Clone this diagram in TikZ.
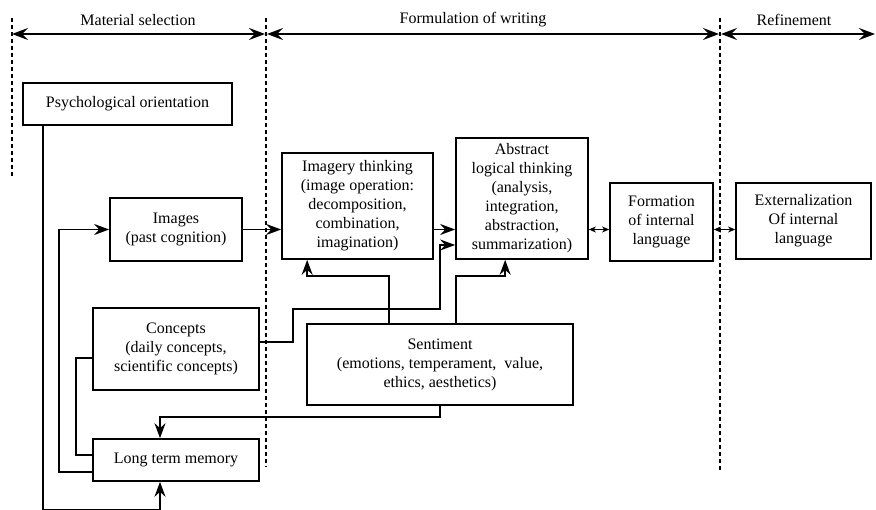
\documentclass[tikz,border=0pt]{standalone}
\usepackage{fontspec}
\setmainfont{Liberation Serif}
\newfontfamily\diagfont{Liberation Serif}
\usetikzlibrary{arrows.meta}

\begin{document}
\begin{tikzpicture}[x=1pt,y=-1pt,
  box/.style={draw, line width=1.7pt, align=center, inner sep=0pt,
              font=\diagfont\fontsize{16}{19}\selectfont},
  lbl/.style={inner sep=0pt, font=\diagfont\fontsize{16}{19}\selectfont},
  conn/.style={line width=1.7pt},
  tip/.style={-{Stealth[length=15pt,width=11pt,inset=5pt]}},
  bitip/.style={{Stealth[length=7pt,width=6pt,inset=2pt]}-{Stealth[length=7pt,width=6pt,inset=2pt]}},
  spanarrow/.style={line width=1.7pt,
              {Stealth[length=16pt,width=12pt,inset=6pt]}-{Stealth[length=16pt,width=12pt,inset=6pt]}},
  divider/.style={line width=1.4pt, dash pattern=on 4pt off 3pt}
]
\useasboundingbox (0,0) rectangle (876,510);

% phase dividers
\coordinate (d1t) at (12,18);  \coordinate (d1b) at (12,176);
\coordinate (d2t) at (266,18); \coordinate (d2b) at (266,467);
\coordinate (d3t) at (720,18); \coordinate (d3b) at (720,470);
\draw[divider] (d1t) -- (d1b);
\draw[divider] (d2t) -- (d2b);
\draw[divider] (d3t) -- (d3b);

% phase spans
\coordinate (s1a) at (12,34);  \coordinate (s1b) at (265,34);
\coordinate (s2a) at (267,34); \coordinate (s2b) at (719,34);
\coordinate (s3a) at (721,34); \coordinate (s3b) at (875,34);
\draw[spanarrow] (s1a) -- (s1b);
\draw[spanarrow] (s2a) -- (s2b);
\draw[spanarrow] (s3a) -- (s3b);
\node[lbl] (ph1) at (138,20) {Material selection};
\node[lbl] (ph2) at (473,20) {Formulation of writing};
\node[lbl] (ph3) at (794,20) {Refinement};

% boxes
\node[box, minimum width=209pt, minimum height=42pt] (psy) at (127.5,104) {Psychological orientation};
\node[box, minimum width=132pt, minimum height=63pt] (img) at (176,229.5) {Images\\(past cognition)};
\node[box, minimum width=151pt, minimum height=106pt] (imt) at (357.5,206) {Imagery thinking\\(image operation:\\decomposition,\\combination,\\imagination)};
\node[box, minimum width=132pt, minimum height=121pt] (abs) at (522,198.5) {Abstract\\logical thinking\\(analysis,\\integration,\\abstraction,\\summarization)};
\node[box, minimum width=103pt, minimum height=78pt] (form) at (661.5,222) {Formation\\of internal\\language};
\node[box, minimum width=135pt, minimum height=76pt] (ext) at (803.5,221) {Externalization\\Of internal\\language};
\node[box, minimum width=166pt, minimum height=82pt] (con) at (176,349) {Concepts\\(daily concepts,\\scientific concepts)};
\node[box, minimum width=266pt, minimum height=81pt] (sen) at (440,364.5) {Sentiment\\(emotions, temperament, \ value,\\ethics, aesthetics)};
\node[box, minimum width=166pt, minimum height=42pt] (ltm) at (176,460) {Long term memory};

% connectors
\draw[conn, tip] ([xshift=21pt]psy.south west) -- ++(0,384) -| ([xshift=-16pt]ltm.south);
\draw[conn, tip] ([yshift=-12pt]ltm.west) -- ++(-33,0) |- (img.west);
\draw[conn] ([yshift=-9pt]con.west) -- ++(-16,0) |- ([yshift=5pt]ltm.west);
\draw[conn, tip] (img.east) -- (imt.west |- img.east);
\draw[conn, tip] (imt.east |- img.east) -- (abs.west |- img.east);
\draw[conn, tip] ([yshift=7pt]con.east) -- ++(33,0) |- (440,309) |- ([yshift=-46.5pt]abs.west);
\draw[conn, tip] ([xshift=83pt]sen.north west) -- ++(0,-47) -| ([xshift=26pt]imt.south west);
\draw[conn, tip] ([xshift=150pt]sen.north west) -- ++(0,-47) -| ([xshift=50pt]abs.south west);
\draw[conn, tip] (sen.south) -- ++(0,11) -| ([xshift=-16pt]ltm.north);
\draw[conn, bitip] (abs.east |- img.east) -- (form.west |- img.east);
\draw[conn, bitip] (form.east |- img.east) -- (ext.west |- img.east);
\end{tikzpicture}
\end{document}
